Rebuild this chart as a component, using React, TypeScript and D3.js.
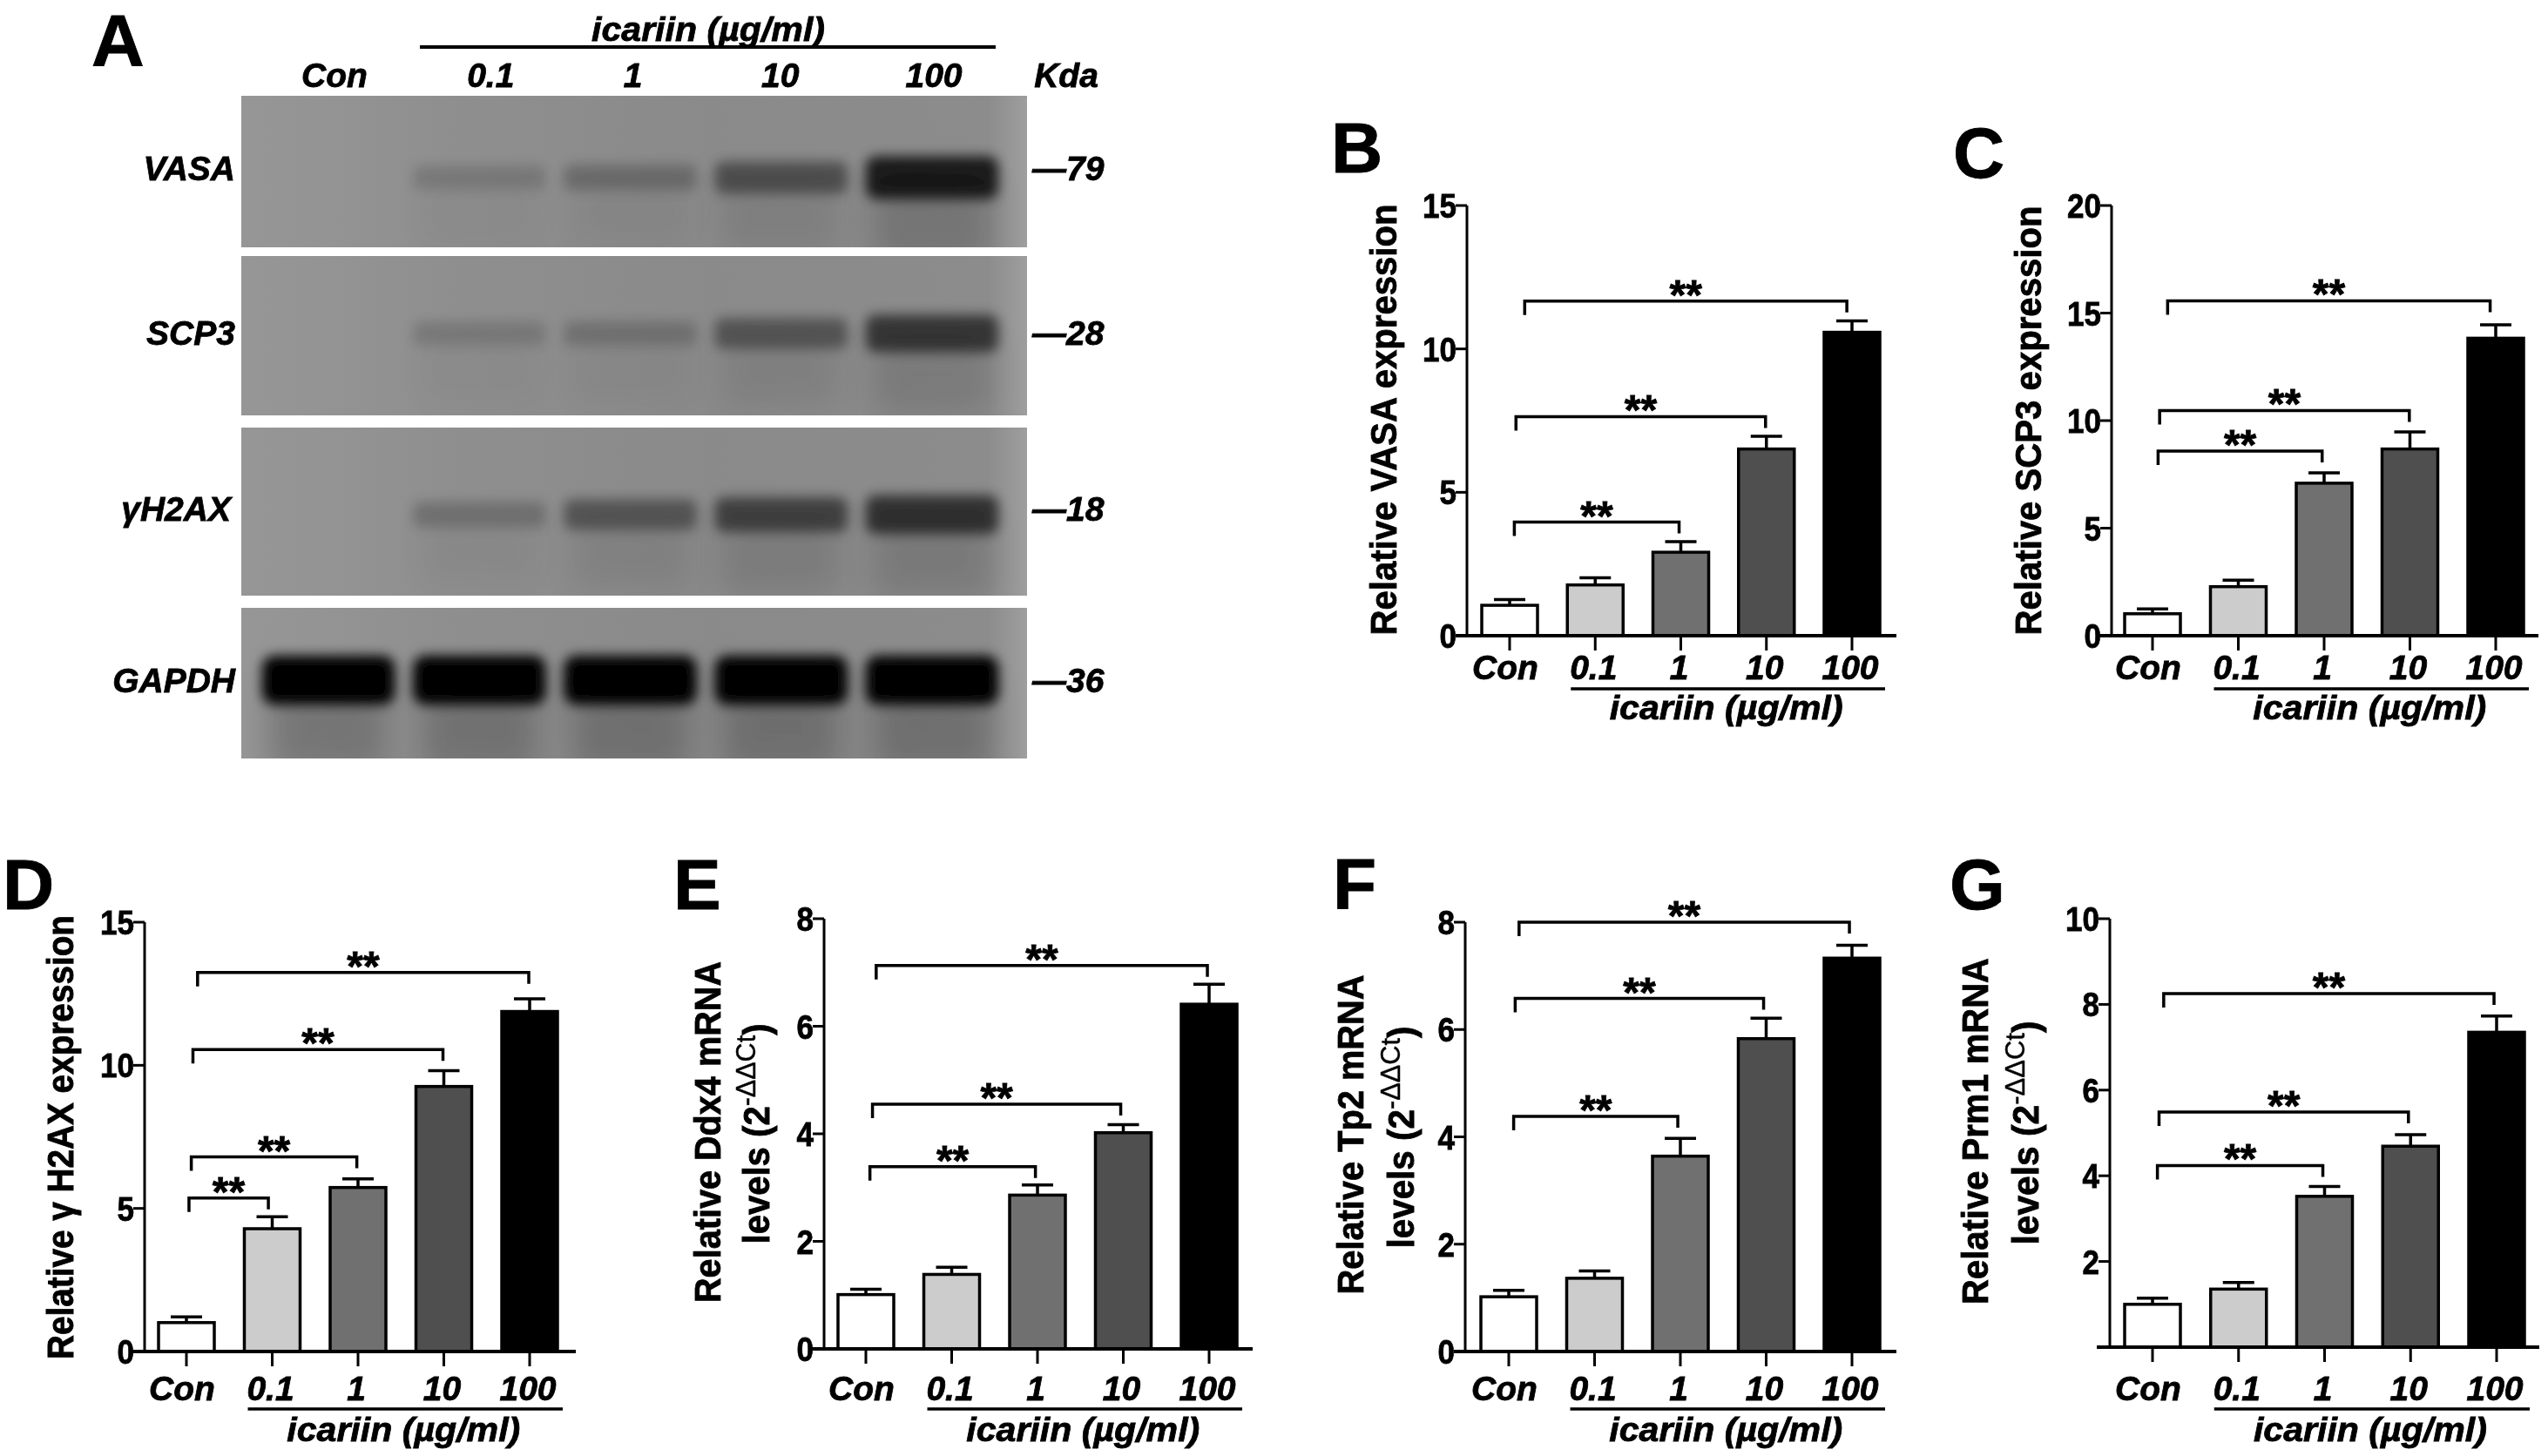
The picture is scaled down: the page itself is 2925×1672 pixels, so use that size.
import React from 'react';
import * as d3 from 'd3';

const FONT = '"Liberation Sans", Arial, sans-serif';
const categories = ['Con', '0.1', '1', '10', '100'];
const barFills = ['#ffffff', '#cccccc', '#707070', '#505050', '#000000'];
const groupLabel = 'icariin (µg/ml)';

// bar means and error-bar tops
const vasaValues = [1.06, 1.77, 2.91, 6.51, 10.58];
const vasaErrors = [1.26, 2.02, 3.28, 6.95, 10.98];
const scp3Values = [1.02, 2.28, 7.09, 8.68, 13.83];
const scp3Errors = [1.25, 2.58, 7.57, 9.47, 14.45];
const h2axValues = [1.01, 4.29, 5.73, 9.26, 11.88];
const h2axErrors = [1.21, 4.71, 6.03, 9.81, 12.32];
const ddx4Values = [1.01, 1.385, 2.86, 4.02, 6.41];
const ddx4Errors = [1.11, 1.52, 3.05, 4.17, 6.78];
const tp2Values = [1.02, 1.365, 3.64, 5.83, 7.33];
const tp2Errors = [1.14, 1.5, 3.97, 6.21, 7.57];
const prm1Values = [1.0, 1.355, 3.52, 4.69, 7.35];
const prm1Errors = [1.145, 1.51, 3.75, 4.96, 7.73];

// significance brackets: [from category, to category, height in axis units]
const vasaBrackets = [[0.176, 3.94, 11.67], [0.074, 2.99, 7.64], [0.055, 1.98, 3.96]];
const scp3Brackets = [[0.176, 3.935, 15.57], [0.083, 2.993, 10.47], [0.065, 1.977, 8.58]];
const h2axBrackets = [[0.13, 3.99, 13.24], [0.076, 2.99, 10.55], [0.057, 1.986, 6.8], [0.03, 0.955, 5.36]];
const ddx4Brackets = [[0.12, 3.98, 7.13], [0.077, 2.97, 4.55], [0.047, 1.976, 3.39]];
const tp2Brackets = [[0.12, 3.97, 8.0], [0.075, 2.97, 6.58], [0.057, 1.97, 4.38]];
const prm1Brackets = [[0.13, 3.97, 8.25], [0.076, 2.975, 5.49], [0.057, 1.98, 4.24]];

// western blot: band strength per lane (0 = nothing, 1 = saturated)
const blotRows = ['VASA', 'SCP3', 'γH2AX', 'GAPDH'];
const blotKda = ['79', '28', '18', '36'];
const vasaBands = [0, 0.14, 0.22, 0.42, 0.8];
const scp3Bands = [0, 0.14, 0.18, 0.38, 0.6];
const h2axBands = [0, 0.2, 0.38, 0.52, 0.64];
const gapdhBands = [1, 1, 1, 1, 1];
const blotBands = [vasaBands, scp3Bands, h2axBands, gapdhBands];

const blotFrames = [
  { top: 110, bottom: 284, band: 204, base: 207 },
  { top: 294, bottom: 477, band: 383, base: 396 },
  { top: 491, bottom: 684, band: 591, base: 598 },
  { top: 698, bottom: 871, band: 781, base: 795 },
];

const topRow = { catBase: 780, ruleY: 791, groupBase: 826 };
const bottomRow = { catBase: 1608, ruleY: 1618, groupBase: 1655 };

const panels = [
  { letter: 'B', lx: 1528, ly: 198, axisX: 1684, yTop: 236, y0: 730, x0: 1733, x4: 2126, left: 1671, right: 2177, max: 15, ticks: [0, 5, 10, 15], values: vasaValues, errors: vasaErrors, brackets: vasaBrackets, row: topRow,
    titles: [{ text: 'Relative VASA expression', x: 1603, y: 482, len: 495 }] },
  { letter: 'C', lx: 2242, ly: 204, axisX: 2424, yTop: 236, y0: 730, x0: 2471, x4: 2865, left: 2409, right: 2914, max: 20, ticks: [0, 5, 10, 15, 20], values: scp3Values, errors: scp3Errors, brackets: scp3Brackets, row: topRow,
    titles: [{ text: 'Relative SCP3 expression', x: 2343, y: 483, len: 493 }] },
  { letter: 'D', lx: 3, ly: 1044, axisX: 166, yTop: 1059, y0: 1552, x0: 214, x4: 608, left: 151, right: 661, max: 15, ticks: [0, 5, 10, 15], values: h2axValues, errors: h2axErrors, brackets: h2axBrackets, row: bottomRow,
    titles: [{ text: 'Relative γ H2AX expression', x: 84, y: 1306, len: 510 }] },
  { letter: 'E', lx: 773, ly: 1044, axisX: 946, yTop: 1055, y0: 1549, x0: 994, x4: 1388, left: 931, right: 1438, max: 8, ticks: [0, 2, 4, 6, 8], values: ddx4Values, errors: ddx4Errors, brackets: ddx4Brackets, row: bottomRow,
    titles: [{ text: 'Relative Ddx4 mRNA', x: 827, y: 1300, len: 392 }, { text: 'levels', power: true, x: 883, y: 1302, len: 253 }] },
  { letter: 'F', lx: 1530, ly: 1044, axisX: 1682, yTop: 1059, y0: 1552, x0: 1732, x4: 2126, left: 1669, right: 2177, max: 8, ticks: [0, 2, 4, 6, 8], values: tp2Values, errors: tp2Errors, brackets: tp2Brackets, row: bottomRow,
    titles: [{ text: 'Relative Tp2 mRNA', x: 1565, y: 1303, len: 367 }, { text: 'levels', power: true, x: 1623, y: 1306, len: 255 }] },
  { letter: 'G', lx: 2238, ly: 1044, axisX: 2422, yTop: 1055, y0: 1547, x0: 2471, x4: 2866, left: 2407, right: 2915, max: 10, ticks: [2, 4, 6, 8, 10], values: prm1Values, errors: prm1Errors, brackets: prm1Brackets, row: bottomRow,
    titles: [{ text: 'Relative Prm1 mRNA', x: 2282, y: 1299, len: 398 }, { text: 'levels', power: true, x: 2340, y: 1301, len: 257 }] },
];

const Bold = (props: any) => <text fontFamily={FONT} fontWeight="bold" fill="#000" stroke="#000" strokeWidth={0.8} {...props} />;
const BoldItalic = (props: any) => <Bold fontStyle="italic" {...props} />;

const BarPanel = ({ p }: { p: any }) => {
  const y = d3.scaleLinear().domain([0, p.max]).range([p.y0, p.yTop]);
  const x = d3.scalePoint<string>().domain(categories).range([p.x0, p.x4]);
  const xAt = d3.scaleLinear().domain([0, categories.length - 1]).range([p.x0, p.x4]);
  const barW = 64;
  const { catBase, ruleY, groupBase } = p.row;
  const ruleLeft = (x('0.1') as number) - 28;
  const ruleRight = (x('100') as number) + 38;

  return (
    <g>
      <Bold x={p.lx} y={p.ly} fontSize={82}>{p.letter}</Bold>

      {p.titles.map((t: any) => (
        <Bold key={t.text} fontSize={42} textAnchor="middle" textLength={t.len} lengthAdjust="spacingAndGlyphs"
          transform={`translate(${t.x},${t.y}) rotate(-90)`}>
          {t.text}
          {t.power && <tspan> (2</tspan>}
          {t.power && <tspan dy={-16} fontSize={32} fontWeight="normal" strokeWidth={0.4}>-ΔΔCt</tspan>}
          {t.power && <tspan dy={16}>)</tspan>}
        </Bold>
      ))}

      {/* y axis */}
      <line x1={p.axisX} x2={p.axisX} y1={y(p.max)} y2={p.y0} stroke="#000" strokeWidth={3} />
      {p.ticks.map((t: number) => (
        <g key={t}>
          <line x1={p.axisX - 13} x2={p.axisX} y1={y(t)} y2={y(t)} stroke="#000" strokeWidth={3} />
          <Bold x={p.axisX - 12} y={y(t) + 14} fontSize={39} textAnchor="end"
            textLength={String(t).length * 19.5} lengthAdjust="spacingAndGlyphs">{t}</Bold>
        </g>
      ))}

      {/* bars and error bars */}
      {categories.map((c, i) => {
        const cx = x(c) as number;
        return (
          <g key={c}>
            <line x1={cx} x2={cx} y1={y(p.values[i])} y2={y(p.errors[i])} stroke="#000" strokeWidth={3.5} />
            <line x1={cx - 18} x2={cx + 18} y1={y(p.errors[i])} y2={y(p.errors[i])} stroke="#000" strokeWidth={3.5} />
            <rect x={cx - barW / 2} y={y(p.values[i])} width={barW} height={p.y0 - y(p.values[i])}
              fill={barFills[i]} stroke="#000" strokeWidth={3.5} />
            <line x1={cx} x2={cx} y1={p.y0} y2={p.y0 + 17} stroke="#000" strokeWidth={3} />
            <BoldItalic x={cx + (i === 0 ? -5 : -2)} y={catBase} fontSize={39} textAnchor="middle">{c}</BoldItalic>
          </g>
        );
      })}

      {/* x axis */}
      <line x1={p.left} x2={p.right} y1={p.y0} y2={p.y0} stroke="#000" strokeWidth={4} />

      {/* significance brackets */}
      {p.brackets.map(([from, to, level]: number[]) => {
        const a = xAt(from);
        const b = xAt(to);
        const ly = y(level);
        return (
          <g key={level}>
            <path d={`M${a},${ly + 16}V${ly}H${b}V${ly + 13}`} fill="none" stroke="#000" strokeWidth={3.5} />
            <Bold x={(a + b) / 2} y={ly + 9} fontSize={48} textAnchor="middle">**</Bold>
          </g>
        );
      })}

      <line x1={ruleLeft} x2={ruleRight} y1={ruleY} y2={ruleY} stroke="#000" strokeWidth={3.5} />
      <BoldItalic x={(ruleLeft + ruleRight) / 2 - 2} y={groupBase} fontSize={39} textAnchor="middle" textLength={268} lengthAdjust="spacingAndGlyphs">{groupLabel}</BoldItalic>
    </g>
  );
};

const BlotPanel = () => {
  const lane = d3.scalePoint<string>().domain(categories).range([377, 1070]);
  const thickness = d3.scaleLinear().domain([0, 1]).range([22, 56]);
  const headerOffsets = [7, 13, 3, -1, 2];

  return (
    <g>
      <Bold x={105} y={76} fontSize={84}>A</Bold>
      <BoldItalic x={813} y={47} fontSize={39} textAnchor="middle" textLength={268} lengthAdjust="spacingAndGlyphs">{groupLabel}</BoldItalic>
      <line x1={482} x2={1143} y1={54} y2={54} stroke="#000" strokeWidth={4} />
      {categories.map((c, i) => (
        <BoldItalic key={c} x={(lane(c) as number) + headerOffsets[i]} y={100} fontSize={39} textAnchor="middle">{c}</BoldItalic>
      ))}
      <BoldItalic x={1224} y={100} fontSize={39} textAnchor="middle">Kda</BoldItalic>

      {blotRows.map((row, r) => {
        const f = blotFrames[r];
        return (
          <g key={row}>
            <clipPath id={`blot-${r}`}><rect x={277} y={f.top} width={902} height={f.bottom - f.top} /></clipPath>
            <rect x={277} y={f.top} width={902} height={f.bottom - f.top} fill="url(#blotBg)" />
            <g clipPath={`url(#blot-${r})`}>
              {categories.map((c, i) => {
                const d = blotBands[r][i];
                if (d === 0) return null;
                const h = thickness(d);
                const cx = lane(c) as number;
                return (
                  <g key={c}>
                    {/* faint smear trailing below each band */}
                    <rect x={cx - 68} y={f.band} width={136} height={h + 50}
                      fill="#000" opacity={d * 0.2} filter="url(#smearBlur)" />
                    <rect x={cx - 76} y={f.band - h / 2} width={152} height={h} rx={h / 4}
                      fill="#060606" opacity={d} filter="url(#bandBlur)" />
                  </g>
                );
              })}
            </g>
            <BoldItalic x={row === 'γH2AX' ? 265 : 270} y={f.base} fontSize={39} textAnchor="end">{row}</BoldItalic>
            <BoldItalic x={1185} y={f.base} fontSize={39}>—{blotKda[r]}</BoldItalic>
          </g>
        );
      })}
    </g>
  );
};

export default function App() {
  return (
    <svg width={2925} height={1672} viewBox="0 0 2925 1672"
      style={{ position: 'absolute', left: 0, top: 0, display: 'block', background: '#fff' }}>
      <defs>
        <linearGradient id="blotBg" x1="0" x2="1" y1="0" y2="0">
          <stop offset="0" stopColor="#969696" />
          <stop offset="0.1" stopColor="#949494" />
          <stop offset="0.25" stopColor="#8f8f8f" />
          <stop offset="0.6" stopColor="#8a8a8a" />
          <stop offset="0.95" stopColor="#8c8c8c" />
          <stop offset="1" stopColor="#9e9e9e" />
        </linearGradient>
        <filter id="bandBlur" x="-30%" y="-100%" width="160%" height="300%">
          <feGaussianBlur stdDeviation="7" />
        </filter>
        <filter id="smearBlur" x="-30%" y="-60%" width="160%" height="220%">
          <feGaussianBlur stdDeviation="18" />
        </filter>
        <filter id="soft"><feGaussianBlur stdDeviation="0.6" /></filter>
      </defs>
      <g filter="url(#soft)">
        <BlotPanel />
        {panels.map((p) => <BarPanel key={p.letter} p={p} />)}
      </g>
    </svg>
  );
}
